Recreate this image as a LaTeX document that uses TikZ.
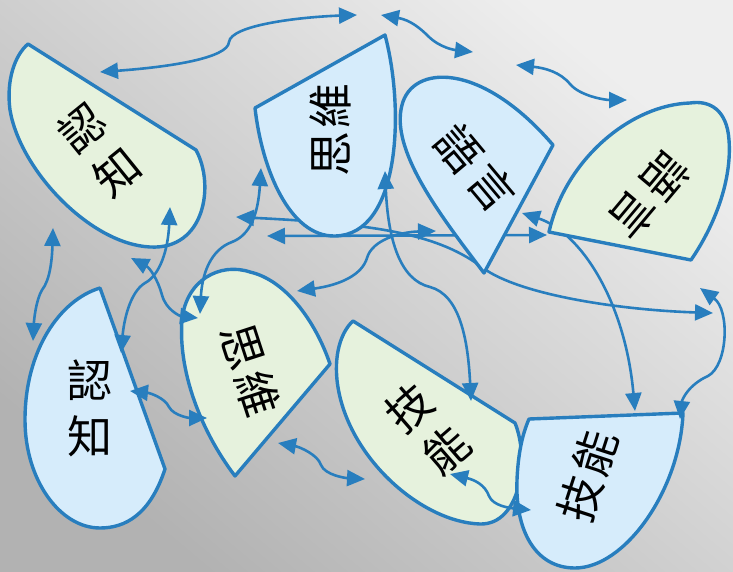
\documentclass[tikz,border=0pt]{standalone}
\usepackage{fontspec}
\newfontfamily\cjk{Noto Sans CJK TC}
\usetikzlibrary{arrows.meta}
\definecolor{edge}{RGB}{40,126,190}
\definecolor{gfill}{RGB}{230,242,221}
\definecolor{bfill}{RGB}{214,236,251}
\definecolor{bglight}{RGB}{238,238,238}
\definecolor{bgdark}{RGB}{178,178,178}
\begin{document}
\begin{tikzpicture}[x=1pt,y=-1pt,
  blob/.style={draw=edge,line width=3.4pt,line join=round},
  gblob/.style={blob,fill=gfill},
  bblob/.style={blob,fill=bfill},
  link/.style={draw=edge,line width=2.6pt,{Triangle[length=18pt,width=16pt]}-{Triangle[length=18pt,width=16pt]}},
  lbl/.style={font=\cjk\fontsize{45}{56}\selectfont,inner sep=0pt,align=center,text=black}]
\useasboundingbox (0,0) rectangle (733,572);
\shade[top color=bglight,bottom color=bgdark,shading angle=-40] (0,0) rectangle (733,572);

% end points of connectors
\coordinate (h1) at (236,217);  \coordinate (h2) at (713,313);
\coordinate (i1) at (267,236);  \coordinate (i2) at (547,235);
\coordinate (o1) at (522,213);  \coordinate (o2) at (635,411);

% connectors beneath the shapes
\draw[link] (h1) .. controls (380,224) and (440,235) .. (483,268) .. controls (520,295) and (620,310) .. (h2);
\draw[link] (i1) -- (i2);
\draw[link] (o1) .. controls (580,232) and (625,300) .. (o2);

% shapes
\path[gblob] (28,44) -- (196,150) .. controls (215,185) and (205,250) .. (150,247)
  .. controls (90,244) and (20,170) .. (10,110) .. controls (6,80) and (15,55) .. (28,44) -- cycle;
\path[bblob] (255,108) -- (385,35) .. controls (405,110) and (400,235) .. (335,236)
  .. controls (290,237) and (262,170) .. (255,108) -- cycle;
\path[bblob] (553,145) -- (484,273) .. controls (440,215) and (390,150) .. (402,105)
  .. controls (412,65) and (480,60) .. (553,145) -- cycle;
\path[gblob] (549,232) -- (691,260) .. controls (715,225) and (732,180) .. (729,140)
  .. controls (727,110) and (710,100) .. (690,103) .. controls (630,105) and (565,160) .. (549,232) -- cycle;
\path[bblob] (100,288) -- (165,469) .. controls (150,515) and (125,528) .. (100,528)
  .. controls (60,528) and (25,480) .. (25,420) .. controls (25,350) and (60,300) .. (100,288) -- cycle;
\path[gblob] (330,364) -- (235,476) .. controls (200,430) and (178,370) .. (182,320)
  .. controls (186,280) and (220,262) .. (250,272) .. controls (285,280) and (315,320) .. (330,364) -- cycle;
\path[gblob] (353,321) -- (515,423) .. controls (530,460) and (520,525) .. (480,524)
  .. controls (420,522) and (345,455) .. (337,380) .. controls (334,350) and (343,330) .. (353,321) -- cycle;
\path[bblob] (529,419) -- (683,413) .. controls (680,490) and (625,568) .. (575,568)
  .. controls (535,568) and (515,530) .. (517,480) .. controls (518,455) and (522,435) .. (529,419) -- cycle;

% end points of connectors above the shapes
\coordinate (a1) at (100,72);   \coordinate (a2) at (357,15);
\coordinate (b1) at (381,15);   \coordinate (b2) at (473,52);
\coordinate (c1) at (516,65);   \coordinate (c2) at (627,100);
\coordinate (d1) at (53,228);   \coordinate (d2) at (33,341);
\coordinate (e1) at (170,207);  \coordinate (e2) at (121,353);
\coordinate (f1) at (131,258);  \coordinate (f2) at (198,318);
\coordinate (g1) at (261,168);  \coordinate (g2) at (200,314);
\coordinate (k1) at (297,291);  \coordinate (k2) at (436,231);
\coordinate (l1) at (385,171);  \coordinate (l2) at (471,401);
\coordinate (n1) at (700,288);  \coordinate (n2) at (680,419);
\coordinate (q1) at (450,474);  \coordinate (q2) at (531,510);
\coordinate (r1) at (278,443);  \coordinate (r2) at (365,479);
\coordinate (s1) at (130,391);  \coordinate (s2) at (207,418);

\draw[link] (a1) .. controls (170,67) and (228,58) .. (229,42) .. controls (231,25) and (300,17) .. (a2);
\draw[link] (b1) .. controls (410,20) and (420,28) .. (428,36) .. controls (440,48) and (455,50) .. (b2);
\draw[link] (c1) .. controls (545,68) and (560,72) .. (570,84) .. controls (580,96) and (605,100) .. (c2);
\draw[link] (d1) .. controls (52,260) and (50,280) .. (42,290) .. controls (36,300) and (34,320) .. (d2);
\draw[link] (e1) .. controls (168,250) and (160,275) .. (145,283) .. controls (130,292) and (124,320) .. (e2);
\draw[link] (f1) .. controls (150,268) and (158,280) .. (162,295) .. controls (166,310) and (180,316) .. (f2);
\draw[link] (g1) .. controls (258,215) and (250,235) .. (232,242) .. controls (210,250) and (202,275) .. (g2);
\draw[link] (k1) .. controls (340,285) and (362,275) .. (367,258) .. controls (372,240) and (400,232) .. (k2);
\draw[link] (l1) .. controls (388,240) and (400,280) .. (430,287) .. controls (460,295) and (468,340) .. (l2);
\draw[link] (n1) .. controls (730,310) and (728,365) .. (708,376) .. controls (688,385) and (682,400) .. (n2);
\draw[link] (q1) .. controls (475,480) and (485,485) .. (489,496) .. controls (493,506) and (510,508) .. (q2);
\draw[link] (r1) .. controls (300,447) and (318,455) .. (321,465) .. controls (325,475) and (345,478) .. (r2);
\draw[link] (s1) .. controls (150,393) and (165,398) .. (169,407) .. controls (174,416) and (190,418) .. (s2);

% labels
\node[lbl,rotate=39] (tA) at (100,150) {認\\知};
\node[lbl,rotate=90] (tB) at (330,130) {思\kern3pt 維};
\node[lbl,rotate=-50] (tC) at (476,168) {語\kern6pt 言};
\node[lbl,rotate=-130] (tD) at (649,196) {語\kern4pt 言};
\node[lbl] (tE) at (90,408) {認\\知};
\node[lbl,rotate=-72] (tF) at (250,370) {思\kern5pt 維};
\node[lbl,rotate=41] (tG) at (428,429) {技\\能};
\node[lbl,rotate=72] (tH) at (588,476) {技\kern3pt 能};
\end{tikzpicture}
\end{document}
